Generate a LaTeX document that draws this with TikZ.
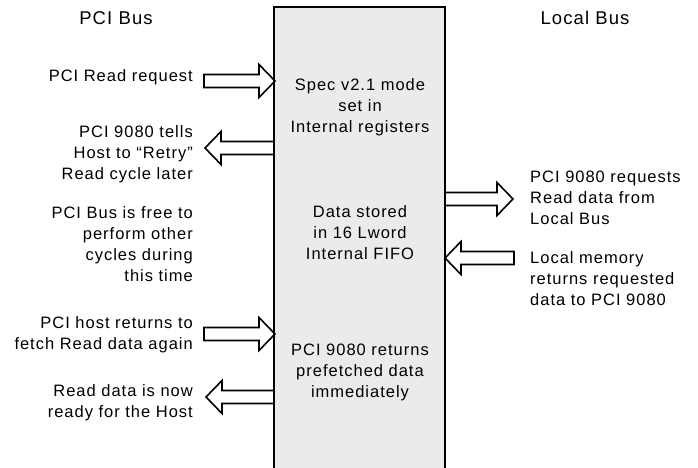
\documentclass[tikz,border=0pt]{standalone}
\usepackage{fontspec}
\setmainfont{Liberation Sans}[LetterSpace=6]
\usetikzlibrary{calc}

\tikzset{
  txt/.style={font={\fontsize{16.5}{21}\selectfont}, inner sep=0pt},
  head/.style={font={\fontsize{18.5}{22}\selectfont}, inner sep=0pt},
  fat/.style={draw, line width=1.6pt, fill=white, line join=miter,
    to path={let \p1=(\tikztostart), \p2=(\tikztotarget), \n1={sign(\x2-\x1)} in
      (\x1,\y1+6.5pt) -- (\x2-16pt*\n1,\y1+6.5pt) -- (\x2-16pt*\n1,\y1+16.5pt)
      -- (\x2,\y1) -- (\x2-16pt*\n1,\y1-16.5pt) -- (\x2-16pt*\n1,\y1-6.5pt)
      -- (\x1,\y1-6.5pt) -- cycle}}
}

\begin{document}
\begin{tikzpicture}[x=1pt,y=1pt]
			\useasboundingbox (0,0) rectangle (698,467);
			% the chip
			\coordinate (TL) at (274,460);
			\coordinate (BR) at (445,-10);
			\fill[black!8] (TL) rectangle (BR);
			% bus headings
			\node[head] (pcibus) at (116,449) {PCI Bus};
			\node[head] (localbus) at (585,449) {Local Bus};
			% PCI side
			\node[txt,anchor=east] (req) at (193,390) {PCI Read request};
			\node[txt,anchor=east,align=right] (retry) at (193,313) {PCI 9080 tells\\Host to ``Retry''\\Read cycle later};
			\node[txt,anchor=east,align=right] (free) at (193,223) {PCI Bus is free to\\perform other\\cycles during\\this time};
			\node[txt,anchor=east,align=right] (again) at (193,132) {PCI host returns to\\fetch Read data again};
			\node[txt,anchor=east,align=right] (ready) at (193,64) {Read data is now\\ready for the Host};
			% local side
			\node[txt,anchor=west,align=left] (lreq) at (530,269) {PCI 9080 requests\\Read data from\\Local Bus};
			\node[txt,anchor=west,align=left] (lmem) at (530,188) {Local memory\\returns requested\\data to PCI 9080};
			% inside the chip
			\node[txt,align=center] (spec) at (360,360) {Spec v2.1 mode\\set in\\Internal registers};
			\node[txt,align=center] (fifo) at (360,234) {Data stored\\in 16 Lword\\Internal FIFO};
			\node[txt,align=center] (pref) at (360,95) {PCI 9080 returns\\prefetched data\\immediately};
			% arrows
			\draw[fat] (204,386) to (275,386);
			\draw[fat] (274,319) to (205,319);
			\draw[fat] (204,133) to (275,133);
			\draw[fat] (274,70) to (206,70);
			\draw[fat] (445,268) to (513,268);
			\draw[fat] (514,209) to (445,209);
			\draw[line width=2pt] (TL |- BR) -- (TL) -| (BR);
		      \end{tikzpicture}
\end{document}
